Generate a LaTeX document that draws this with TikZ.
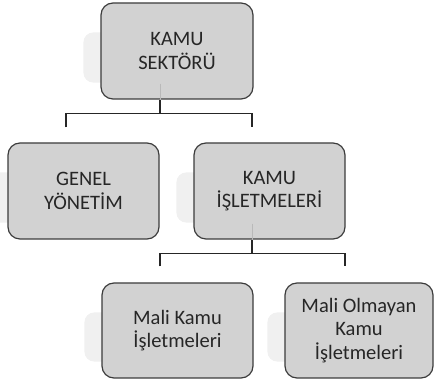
\documentclass[tikz,border=0pt]{standalone}
\usepackage{fontspec}
\setmainfont{Carlito}
\usetikzlibrary{backgrounds}
\definecolor{boxfill}{RGB}{210,210,210}
\definecolor{boxline}{RGB}{60,60,60}
\definecolor{shadefill}{RGB}{240,240,240}
\begin{document}
\begin{tikzpicture}[x=1pt,y=1pt,
  box/.style={draw=boxline, line width=1.2pt, fill=boxfill, rounded corners=12pt,
    minimum width=151pt, minimum height=96pt, align=center, inner sep=0pt,
    font=\fontsize{20.5}{23.5}\selectfont, text=black!85},
  conn/.style={draw=black!85, line width=1.2pt},
  backshade/.style={rounded corners=10pt, fill=shadefill, draw=none}]
\useasboundingbox (0,0) rectangle (434,385);
\node[box, minimum width=152pt] (b1) at (177,334) {KAMU\\SEKTÖRÜ};
\node[box] (b2) at (83.5,194) {GENEL\\YÖNETİM};
\node[box] (b3) at (269.5,194) {KAMU\\İŞLETMELERİ};
\node[box, minimum height=95pt] (b4) at (177.5,54.5) {Mali Kamu\\İşletmeleri};
\node[box, minimum width=148pt, minimum height=95pt] (b5) at (359,54.5) {Mali Olmayan\\Kamu\\İşletmeleri};
\begin{scope}[on background layer]
  \foreach \n in {b1,b2,b3,b4,b5}{
    \fill[backshade] ([xshift=-17pt,yshift=17pt]\n.south west) rectangle ([xshift=-16pt,yshift=-30pt]\n.north east);
  }
\end{scope}
% faint connector traces inside parents
\draw[gray!55, line width=0.8pt] ([xshift=-17pt,yshift=16pt]b1.south) -- ([xshift=-17pt]b1.south);
\draw[gray!55, line width=0.8pt] ([xshift=-17pt,yshift=16pt]b3.south) -- ([xshift=-17pt]b3.south);
% connectors
\coordinate (j1) at ([xshift=-17pt,yshift=-14pt]b1.south);
\coordinate (e2) at ([xshift=-17.5pt,yshift=15pt]b2.north);
\coordinate (e3) at ([xshift=-17.5pt,yshift=15pt]b3.north);
\draw[conn] ([xshift=-17pt]b1.south) -- (j1);
\draw[conn] (e2) |- (j1) -| (e3);
\coordinate (j2) at ([xshift=-17.5pt,yshift=-14pt]b3.south);
\coordinate (e4) at ([xshift=-17.5pt,yshift=16pt]b4.north);
\coordinate (e5) at ([xshift=-14pt,yshift=16pt]b5.north);
\draw[conn] ([xshift=-17.5pt]b3.south) -- (j2);
\draw[conn] (e4) |- (j2) -| (e5);
\end{tikzpicture}
\end{document}
